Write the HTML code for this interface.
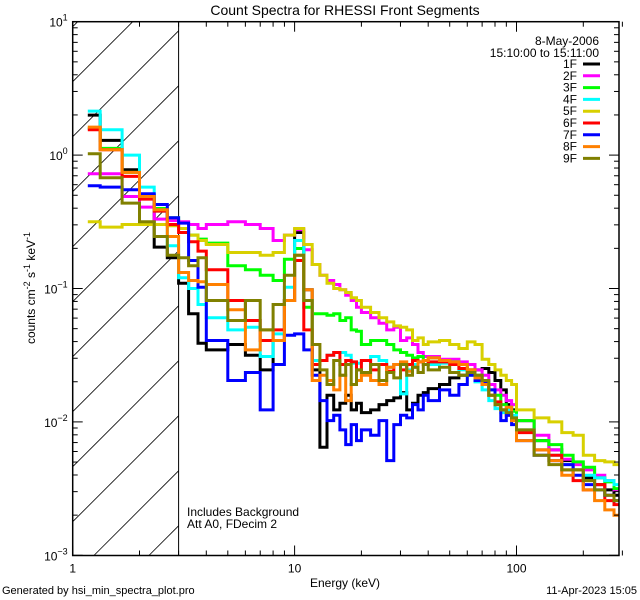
<!DOCTYPE html>
<html><head><meta charset="utf-8"><style>
html,body{margin:0;padding:0;background:#fff;width:640px;height:600px;overflow:hidden;}
svg{display:block;font-family:"Liberation Sans",sans-serif;}
</style></head><body>
<svg id="chart" width="640" height="600" viewBox="0 0 640 600">
<rect width="640" height="600" fill="#fff"/>
<text x="345" y="15" font-size="14" text-anchor="middle">Count Spectra for RHESSI Front Segments</text>
<defs><clipPath id="plotclip"><rect x="72.7" y="21.7" width="546.3" height="533.8"/></clipPath></defs>
<g id="hatch"></g>
<line x1="178.6" y1="21.7" x2="178.6" y2="555.5" stroke="#000" stroke-width="1"/>
<g id="series" clip-path="url(#plotclip)"></g>
<rect x="72.7" y="21.7" width="546.3" height="533.8" fill="none" stroke="#000" stroke-width="1.5"/>
<g id="axes"></g>
<text transform="translate(35,288) rotate(-90)" font-size="12" text-anchor="middle">counts cm<tspan dy="-5" font-size="9">-2</tspan><tspan dy="5"> s</tspan><tspan dy="-5" font-size="9">-1</tspan><tspan dy="5"> keV</tspan><tspan dy="-5" font-size="9">-1</tspan></text>
<text x="345" y="587" font-size="12" text-anchor="middle">Energy (keV)</text>
<text x="2" y="594" font-size="11">Generated by hsi_min_spectra_plot.pro</text>
<text x="637" y="594" font-size="11" text-anchor="end">11-Apr-2023 15:05</text>
<text x="187" y="516" font-size="12">Includes Background</text>
<text x="187" y="528" font-size="12">Att A0, FDecim 2</text>
<text x="599" y="45" font-size="12" text-anchor="end">8-May-2006</text>
<text x="599" y="57" font-size="12" text-anchor="end">15:10:00 to 15:11:00</text>
<g id="legend"></g>
</svg>
<script>
const edges=[1.17,1.33,1.67,2,2.33,2.67,3,3.33,3.67,4,5,6,7,8,9,10,11,12,13,14,15,16,17,18,19,20,22,24,26,28,30,32,34,36,38,40,45,50,55,60,65,70,75,80,85,90,95,100,120,140,160,180,200,225,250,275,300];
const seriesNames=["1F","2F","3F","4F","5F","6F","7F","8F","9F"];
const seriesColors=["#000000","#ff00ff","#00ff00","#00ffff","#d8d000","#ff0000","#0000ff","#ff8000","#808000"];
const xTickLabels=["1","10","100"];
const yTickExps=["1","0","-1","-2","-3"];
// log10(counts) per bin
const s1F=[0.30,0.11,-0.11,-0.30,-0.69,-0.77,-0.96,-1.19,-1.41,-1.46,-1.42,-1.50,-1.61,-1.39,-1.09,-0.58,-1.01,-1.61,-2.19,-1.80,-1.91,-1.86,-1.80,-1.91,-1.86,-1.93,-1.91,-1.87,-1.84,-1.82,-1.78,-1.91,-1.86,-1.80,-1.78,-1.75,-1.72,-1.67,-1.65,-1.63,-1.61,-1.60,-1.63,-1.69,-1.76,-1.87,-1.91,-1.99,-2.14,-2.21,-2.29,-2.36,-2.42,-2.47,-2.51,-2.55];
const s2F=[-0.14,-0.14,-0.31,-0.39,-0.48,-0.49,-0.50,-0.52,-0.55,-0.52,-0.50,-0.52,-0.55,-0.64,-0.60,-0.56,-0.71,-0.82,-0.90,-0.94,-0.97,-1.01,-1.05,-1.09,-1.14,-1.18,-1.22,-1.26,-1.31,-1.29,-1.39,-1.37,-1.42,-1.48,-1.51,-1.51,-1.53,-1.53,-1.55,-1.57,-1.61,-1.65,-1.72,-1.76,-1.80,-1.84,-1.87,-1.99,-2.10,-2.21,-2.28,-2.32,-2.36,-2.40,-2.44,-2.51];
const s3F=[0.20,0.05,-0.13,-0.30,-0.40,-0.47,-0.55,-0.60,-0.63,-0.66,-0.83,-0.86,-0.90,-0.94,-0.78,-0.70,-1.14,-1.19,-1.19,-1.20,-1.19,-1.24,-1.22,-1.31,-1.32,-1.42,-1.39,-1.39,-1.42,-1.46,-1.48,-1.50,-1.52,-1.51,-1.54,-1.52,-1.54,-1.55,-1.57,-1.61,-1.65,-1.72,-1.76,-1.80,-1.87,-1.89,-1.92,-1.99,-2.14,-2.17,-2.25,-2.30,-2.34,-2.42,-2.45,-2.50];
const s4F=[0.33,0.19,0.00,-0.24,-0.42,-0.68,-0.92,-1.00,-1.12,-1.22,-1.31,-1.29,-1.51,-1.34,-0.99,-0.64,-1.09,-1.54,-1.54,-1.50,-1.48,-1.48,-1.50,-1.56,-1.56,-1.54,-1.51,-1.54,-1.59,-1.57,-1.79,-1.61,-1.57,-1.55,-1.54,-1.57,-1.56,-1.55,-1.61,-1.65,-1.70,-1.76,-1.84,-1.90,-1.93,-1.91,-1.95,-2.06,-2.21,-2.25,-2.32,-2.36,-2.40,-2.42,-2.44,-2.47];
const s5F=[-0.50,-0.54,-0.52,-0.52,-0.52,-0.53,-0.55,-0.60,-0.64,-0.67,-0.73,-0.73,-0.75,-0.73,-0.60,-0.55,-0.67,-0.82,-0.90,-0.96,-1.00,-1.01,-1.03,-1.07,-1.09,-1.14,-1.18,-1.22,-1.25,-1.28,-1.29,-1.31,-1.39,-1.37,-1.42,-1.40,-1.39,-1.42,-1.45,-1.40,-1.42,-1.53,-1.57,-1.61,-1.65,-1.69,-1.72,-1.91,-1.97,-2.00,-2.08,-2.10,-2.25,-2.29,-2.30,-2.32];
const s6F=[0.19,0.04,-0.16,-0.33,-0.42,-0.52,-0.58,-0.65,-0.72,-0.86,-1.09,-1.24,-1.39,-1.31,-1.09,-0.79,-1.31,-1.57,-1.54,-1.50,-1.48,-1.57,-1.54,-1.55,-1.61,-1.54,-1.61,-1.57,-1.62,-1.57,-1.61,-1.57,-1.54,-1.55,-1.57,-1.55,-1.55,-1.57,-1.60,-1.61,-1.67,-1.72,-1.80,-1.85,-1.91,-1.95,-1.99,-2.08,-2.21,-2.25,-2.36,-2.44,-2.51,-2.47,-2.59,-2.62];
const s7F=[-0.23,-0.24,-0.26,-0.29,-0.37,-0.47,-0.51,-0.79,-0.99,-1.39,-1.69,-1.63,-1.91,-1.57,-1.35,-1.34,-1.46,-1.65,-1.84,-1.99,-1.95,-2.06,-2.17,-2.02,-2.14,-2.06,-2.10,-1.99,-2.29,-2.02,-1.95,-1.97,-1.87,-1.91,-1.80,-1.84,-1.76,-1.80,-1.72,-1.65,-1.69,-1.70,-1.76,-1.87,-1.99,-1.95,-2.02,-2.14,-2.25,-2.29,-2.32,-2.40,-2.47,-2.51,-2.55,-2.59];
const s8F=[0.21,0.04,-0.13,-0.31,-0.41,-0.61,-0.88,-0.94,-0.95,-0.97,-1.16,-1.46,-1.31,-1.39,-1.09,-0.75,-1.01,-1.69,-1.65,-1.69,-1.76,-1.65,-1.84,-1.72,-1.69,-1.65,-1.69,-1.72,-1.59,-1.57,-1.55,-1.62,-1.59,-1.55,-1.54,-1.52,-1.54,-1.55,-1.57,-1.61,-1.67,-1.72,-1.80,-1.87,-1.91,-1.89,-1.99,-2.14,-2.21,-2.29,-2.40,-2.36,-2.51,-2.59,-2.66,-2.70];
const s9F=[0.01,-0.17,-0.36,-0.50,-0.61,-0.75,-0.77,-0.83,-0.77,-1.09,-1.24,-1.09,-1.31,-1.12,-0.90,-0.75,-1.09,-1.42,-1.61,-1.72,-1.54,-1.65,-1.57,-1.72,-1.61,-1.63,-1.57,-1.69,-1.63,-1.67,-1.57,-1.65,-1.59,-1.63,-1.57,-1.61,-1.59,-1.63,-1.65,-1.63,-1.65,-1.69,-1.80,-1.87,-1.91,-1.93,-1.97,-2.06,-2.25,-2.32,-2.36,-2.36,-2.44,-2.51,-2.55,-2.59];
const allSeries=[s1F,s2F,s3F,s4F,s5F,s6F,s7F,s8F,s9F];

const NS="http://www.w3.org/2000/svg";
const L=72.7,R=619,T=21.7,B=555.5,DX=221.9,DY=133.4,HX=178.6;
function xs(e){return L+DX*Math.log10(e);}
function ys(lg){return T+(1-lg)*DY;}
function mk(tag,attrs,parent){const el=document.createElementNS(NS,tag);for(const k in attrs)el.setAttribute(k,attrs[k]);parent.appendChild(el);return el;}

// hatch lines clipped analytically to the 1-3 keV box: y = y0 - (x - L)
const hatch=document.getElementById('hatch');
for(let i=-3;i<12;i++){
  const y0=T+60+i*55;
  let xa=L, ya=y0;
  if(ya>B){xa=L+(ya-B);ya=B;}
  let xb=HX, yb=y0-(HX-L);
  if(yb<T){xb=L+(y0-T);yb=T;}
  if(xa>=xb||ya<T||yb>B) continue;
  const ln=mk('line',{x1:xa.toFixed(1),y1:ya.toFixed(1),x2:xb.toFixed(1),y2:yb.toFixed(1),stroke:'#000','stroke-width':0.8},hatch);
  
  
}

const sg=document.getElementById('series');
allSeries.forEach((vals,si)=>{
  let d='';
  vals.forEach((v,i)=>{
    const x0=xs(edges[i]),x1=Math.min(xs(edges[i+1]),R),y=ys(v);
    d+=(i===0?'M':'L')+x0.toFixed(1)+','+y.toFixed(1)+'L'+x1.toFixed(1)+','+y.toFixed(1);
  });
  const p=mk('path',{d:d,fill:'none',stroke:seriesColors[si],'stroke-width':3,'stroke-linejoin':'miter'},sg);
  
  
});

const ax=document.getElementById('axes');
for(let dec=0;dec<3;dec++){
  for(let m=1;m<10;m++){
    const e=Math.pow(10,dec)*m;
    if(e>300)break;
    const x=xs(e),len=m===1?10:5;
    const t1=mk('line',{x1:x,y1:B,x2:x,y2:B-len,stroke:'#000','stroke-width':1},ax);
    
    
    const t2=mk('line',{x1:x,y1:T,x2:x,y2:T+len,stroke:'#000','stroke-width':1},ax);
    
    
  }
}
xTickLabels.forEach((lab,i)=>{
  const t=mk('text',{x:xs(Math.pow(10,i)),y:B+17,'font-size':12,'text-anchor':'middle'},ax);
  t.textContent=lab;
  
  
});
for(let dec=-3;dec<1;dec++){
  for(let m=1;m<10;m++){
    const lg=dec+Math.log10(m),y=ys(lg),len=m===1?10:5;
    const t1=mk('line',{x1:L,y1:y,x2:L+len,y2:y,stroke:'#000','stroke-width':1},ax);
    
    
    const t2=mk('line',{x1:R,y1:y,x2:R-len,y2:y,stroke:'#000','stroke-width':1},ax);
    
    
  }
}
yTickExps.forEach(ex=>{
  const y=ys(parseFloat(ex));
  const t=mk('text',{x:L-5,y:y+5,'font-size':12,'text-anchor':'end'},ax);
  
  
  const a=document.createElementNS(NS,'tspan');a.textContent='10';t.appendChild(a);
  const b=document.createElementNS(NS,'tspan');b.setAttribute('dy','-6');b.setAttribute('font-size','9');b.textContent=ex.replace('-','\u2212');t.appendChild(b);
});

const lg=document.getElementById('legend');
seriesNames.forEach((n,i)=>{
  const y=68+i*11.8;
  const t=mk('text',{x:577,y:y,'font-size':12,'text-anchor':'end'},lg);
  t.textContent=n;
  
  
  const l=mk('line',{x1:583,y1:y-4,x2:600,y2:y-4,stroke:seriesColors[i],'stroke-width':3},lg);
  
  
});
</script>
</body></html>
